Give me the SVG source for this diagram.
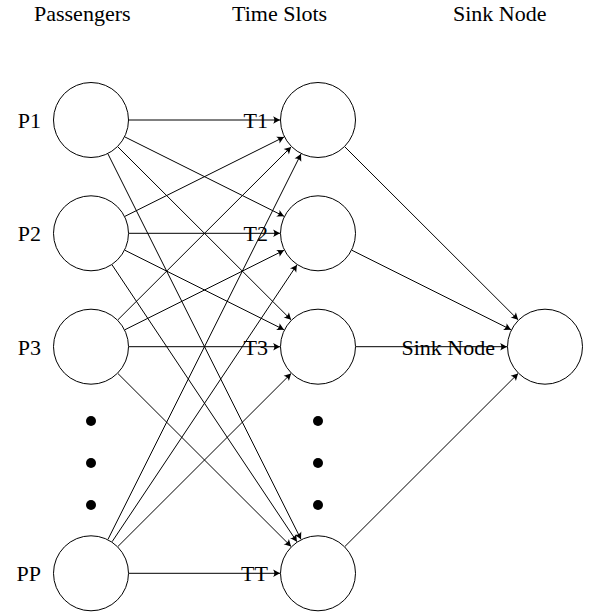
<svg xmlns="http://www.w3.org/2000/svg" width="601" height="616" viewBox="0 0 601 616">
<style>
text{font-family:"Liberation Serif","Times New Roman",serif;font-size:22px;fill:#000}
.lbl{text-anchor:end}
circle.n{fill:#fff;stroke:#000;stroke-width:1}
#edges line{stroke:#000;stroke-width:1;marker-end:url(#arr)}
</style>
<defs>
<marker id="arr" markerUnits="userSpaceOnUse" markerWidth="10" markerHeight="10" refX="0" refY="0" viewBox="-6 -4 8 8" orient="auto" overflow="visible">
<path d="M0,0 L-5.5,-3 Q-3.5,0 -5.5,3 Z" fill="#000"/>
</marker>
</defs>
<rect width="601" height="616" fill="#fff"/>
<g id="headers">
<text x="34" y="21">Passengers</text>
<text x="232" y="21">Time Slots</text>
<text x="453" y="21">Sink Node</text>
</g>
<g id="edges">
<line x1="129" y1="120" x2="280" y2="120"/>
<line x1="125" y1="137" x2="284" y2="216.3"/>
<line x1="117.9" y1="146.9" x2="291.1" y2="319.8"/>
<line x1="108" y1="154" x2="301" y2="539.3"/>
<line x1="125" y1="216.3" x2="284" y2="137"/>
<line x1="129" y1="233.3" x2="280" y2="233.3"/>
<line x1="125" y1="250.3" x2="284" y2="329.7"/>
<line x1="112.1" y1="264.9" x2="296.9" y2="541.7"/>
<line x1="117.9" y1="319.8" x2="291.1" y2="146.9"/>
<line x1="125" y1="329.7" x2="284" y2="250.3"/>
<line x1="129" y1="346.7" x2="280" y2="346.7"/>
<line x1="117.9" y1="373.5" x2="291.1" y2="546.5"/>
<line x1="108" y1="539.3" x2="301" y2="154"/>
<line x1="112.1" y1="541.7" x2="296.9" y2="264.9"/>
<line x1="117.9" y1="546.5" x2="291.1" y2="373.5"/>
<line x1="129" y1="573.3" x2="280" y2="573.3"/>
<line x1="344.9" y1="146.9" x2="518.1" y2="319.8"/>
<line x1="352" y1="250.3" x2="511" y2="329.7"/>
<line x1="356" y1="346.7" x2="507" y2="346.7"/>
<line x1="344.9" y1="546.5" x2="518.1" y2="373.5"/>
</g>
<g id="P1"><circle class="n" cx="91" cy="120" r="37.5"/><text class="lbl" x="41" y="128">P1</text></g>
<g id="P2"><circle class="n" cx="91" cy="233.3" r="37.5"/><text class="lbl" x="41" y="241.3">P2</text></g>
<g id="P3"><circle class="n" cx="91" cy="346.7" r="37.5"/><text class="lbl" x="41" y="354.7">P3</text></g>
<g id="PP"><circle class="n" cx="91" cy="573.3" r="37.5"/><text class="lbl" x="41" y="581.3">PP</text></g>
<g id="T1"><circle class="n" cx="318" cy="120" r="37.5"/><text class="lbl" x="268" y="128">T1</text></g>
<g id="T2"><circle class="n" cx="318" cy="233.3" r="37.5"/><text class="lbl" x="268" y="241.3">T2</text></g>
<g id="T3"><circle class="n" cx="318" cy="346.7" r="37.5"/><text class="lbl" x="268" y="354.7">T3</text></g>
<g id="TT"><circle class="n" cx="318" cy="573.3" r="37.5"/><text class="lbl" x="268" y="581.3">TT</text></g>
<g id="Sink"><circle class="n" cx="545" cy="346.7" r="37.5"/><text class="lbl" x="495" y="354.7">Sink Node</text></g>
<g id="dots">
<circle cx="91" cy="421" r="5"/><circle cx="91" cy="463" r="5"/><circle cx="91" cy="505" r="5"/>
<circle cx="318" cy="421" r="5"/><circle cx="318" cy="463" r="5"/><circle cx="318" cy="505" r="5"/>
</g>
</svg>
